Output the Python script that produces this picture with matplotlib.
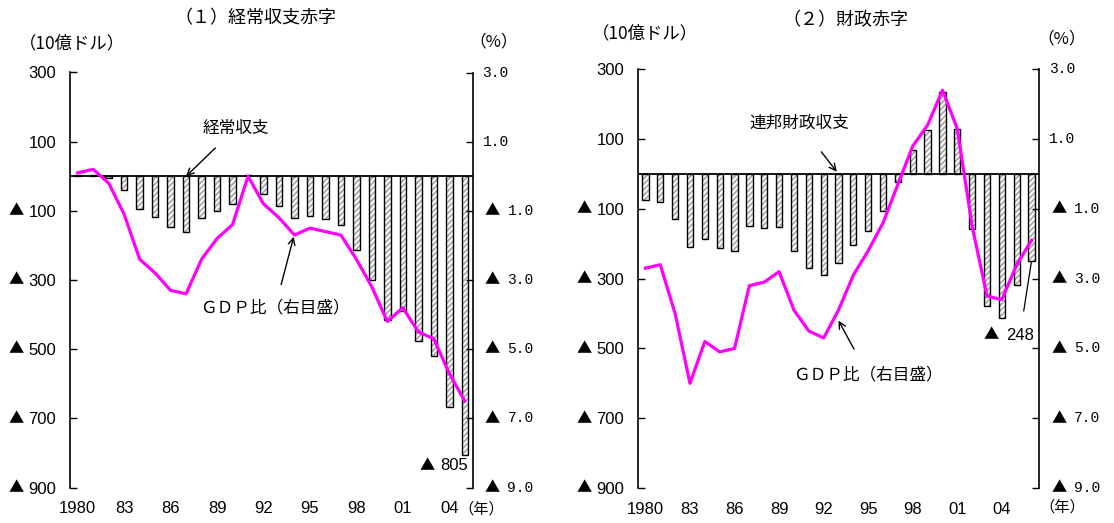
import numpy as np
import matplotlib
matplotlib.use('Agg')
import matplotlib.pyplot as plt
import matplotlib.transforms as mtrans
from matplotlib import font_manager

# 経常収支 (10億ドル) と GDP比 (%)
ca_years = list(range(1980, 2006))
ca_balance = [2.3, 5.0, -5.5, -38.7, -94.3, -118.2, -147.2, -160.7, -121.2, -99.5,
              -79.0, 2.9, -50.1, -84.8, -121.6, -113.6, -124.8, -140.9, -214.1, -300.1,
              -416.0, -389.5, -475.2, -519.7, -668.1, -804.9]
ca_gdp = [0.1, 0.2, -0.2, -1.1, -2.4, -2.8, -3.3, -3.4, -2.4, -1.8,
          -1.4, 0.0, -0.8, -1.2, -1.7, -1.5, -1.6, -1.7, -2.4, -3.2,
          -4.2, -3.8, -4.5, -4.7, -5.7, -6.5]

# 連邦財政収支 (10億ドル) と GDP比 (%)
fb_years = list(range(1980, 2007))
fb_balance = [-74, -79, -128, -208, -185, -212, -221, -150, -155, -153,
              -221, -269, -290, -255, -203, -164, -107, -22, 69, 126,
              236, 128, -158, -378, -413, -318, -248]
fb_gdp = [-2.7, -2.6, -4.0, -6.0, -4.8, -5.1, -5.0, -3.2, -3.1, -2.8,
          -3.9, -4.5, -4.7, -3.9, -2.9, -2.2, -1.4, -0.3, 0.8, 1.4,
          2.4, 1.3, -1.5, -3.5, -3.6, -2.6, -1.9]

left_ticks = [300, 100, -100, -300, -500, -700, -900]
right_ticks = [3.0, 1.0, -1.0, -3.0, -5.0, -7.0, -9.0]
year_labels = ['1980', '83', '86', '89', '92', '95', '98', '01', '04']

names = {f.name for f in font_manager.fontManager.ttflist}
NUM = 'Liberation Sans Narrow' if 'Liberation Sans Narrow' in names else 'Liberation Sans'
JP = 'Noto Sans CJK JP'
MONO = 'Liberation Mono'
TRI = '▲'

plt.rcParams['hatch.linewidth'] = 1.3

W, H = 1114, 523
fig = plt.figure(figsize=(W / 100, H / 100), dpi=100)


def fpos(x, y):
    return x / W, 1 - y / H


def draw_panel(left, right, top, bottom, years, bal, gdp):
    ax = fig.add_axes([left / W, 1 - bottom / H, (right - left) / W, (bottom - top) / H])
    idx = np.arange(len(years))
    # hatch first, then the black outline on top
    ax.bar(idx, bal, width=0.42, facecolor='white', edgecolor='#a8a8a8',
           hatch='//////', linewidth=0, zorder=2)
    ax.bar(idx, bal, width=0.42, fill=False, edgecolor='black', linewidth=1.0, zorder=3)
    ax.axhline(0, color='black', linewidth=1.3, zorder=4)
    ax.set_xlim(-0.5, len(years) - 0.5)
    ax.set_ylim(-900, 300)
    ax.set_yticks(left_ticks)
    ax.set_yticklabels(['{:.0f}'.format(abs(v)) for v in left_ticks],
                       family=NUM, fontsize=12)
    lab_idx = [years.index(1980 + 3 * k) for k in range(len(year_labels))]
    ax.set_xticks(lab_idx)
    ax.set_xticklabels(year_labels, family=NUM, fontsize=12)
    ax.tick_params(axis='x', length=0, pad=10)
    ax.tick_params(axis='y', direction='in', length=5, width=1, pad=10)
    for s in ['top', 'bottom', 'right']:
        ax.spines[s].set_visible(False)
    ax.spines['left'].set_linewidth(1.2)

    ax2 = ax.twinx()
    ax2.plot(idx, gdp, color='#ff00ff', linewidth=2.3, zorder=5)
    ax2.set_ylim(-9, 3)
    ax2.set_yticks(right_ticks)
    ax2.tick_params(axis='y', direction='in', length=5, width=1, labelright=False)
    for s in ['top', 'bottom', 'left']:
        ax2.spines[s].set_visible(False)
    ax2.spines['right'].set_linewidth(1.2)

    # right-hand % labels; negatives get a ▲ in front of the number
    trL = mtrans.blended_transform_factory(fig.transFigure, ax.transData)
    trR = mtrans.blended_transform_factory(fig.transFigure, ax2.transData)
    for v in right_ticks:
        x_num = right + (10 if v > 0 else 35)
        fig.text(x_num / W, v, '{:.1f}'.format(abs(v)), transform=trR, family=MONO,
                 fontsize=10.5, ha='left', va='center')
        if v < 0:
            fig.text((right + 20) / W, v, TRI, transform=trR, family=JP,
                     fontsize=11, ha='center', va='center')
    for v in left_ticks:
        if v < 0:
            fig.text((left - 54) / W, v, TRI, transform=trL, family=JP,
                     fontsize=11, ha='center', va='center')
    return ax, ax2


# (1) 経常収支赤字
axL, axL2 = draw_panel(70, 472.5, 72.5, 487.5, ca_years, ca_balance, ca_gdp)
fig.text(*fpos(255, 18), '（１）経常収支赤字', family=JP, fontsize=13,
         ha='center', va='center')
fig.text(*fpos(72, 43), '（10億ドル）', family=JP, fontsize=12.5, ha='center', va='center')
fig.text(*fpos(494, 42), '（%）', family=JP, fontsize=12, ha='center', va='center')
axL.annotate('経常収支', xy=(ca_years.index(1987), 0), xycoords='data',
             xytext=fpos(236, 128), textcoords='figure fraction',
             family=JP, fontsize=12, ha='center', va='center',
             arrowprops=dict(arrowstyle='->', color='black', lw=1,
                             shrinkA=9, shrinkB=0))
axL2.annotate('ＧＤＰ比（右目盛）', xy=(ca_years.index(1994) - 0.05, -1.75), xycoords='data',
              xytext=fpos(275, 308), textcoords='figure fraction',
              family=JP, fontsize=12, ha='center', va='center',
              arrowprops=dict(arrowstyle='->', color='black', lw=1,
                              shrinkA=9, shrinkB=0))
fig.text(*fpos(427, 466), TRI, family=JP, fontsize=11, ha='center', va='center')
fig.text(*fpos(468, 466), '{:.0f}'.format(abs(ca_balance[-1])), family=NUM, fontsize=12,
         ha='right', va='center')
fig.text(*fpos(481, 509), '（年）', family=JP, fontsize=11, ha='center', va='center')

# (2) 財政赤字
axR, axR2 = draw_panel(638, 1039, 69.3, 488, fb_years, fb_balance, fb_gdp)
fig.text(*fpos(845, 20), '（２）財政赤字', family=JP, fontsize=13,
         ha='center', va='center')
fig.text(*fpos(645, 33), '（10億ドル）', family=JP, fontsize=12.5, ha='center', va='center')
fig.text(*fpos(1062, 39), '（%）', family=JP, fontsize=12, ha='center', va='center')
axR.annotate('連邦財政収支', xy=(fb_years.index(1993), 0), xycoords='data',
             xytext=fpos(799, 123), textcoords='figure fraction',
             family=JP, fontsize=12, ha='center', va='center',
             arrowprops=dict(arrowstyle='->', color='black', lw=1,
                             shrinkA=16, shrinkB=2))
axR2.annotate('ＧＤＰ比（右目盛）', xy=(fb_years.index(1993), -4.2), xycoords='data',
              xytext=fpos(868, 375), textcoords='figure fraction',
              family=JP, fontsize=12, ha='center', va='center',
              arrowprops=dict(arrowstyle='->', color='black', lw=1,
                              shrinkA=12, shrinkB=0))
axR.annotate('{:.0f}'.format(abs(fb_balance[-1])), xy=(len(fb_years) - 1, fb_balance[-1]),
             xycoords='data', xytext=fpos(1020, 335), textcoords='figure fraction',
             family=NUM, fontsize=12, ha='center', va='center',
             arrowprops=dict(arrowstyle='-', color='black', lw=0.9,
                             shrinkA=10, shrinkB=1))
fig.text(*fpos(991, 335), TRI, family=JP, fontsize=11, ha='center', va='center')
fig.text(*fpos(1062, 507), '（年）', family=JP, fontsize=11, ha='center', va='center')

fig.savefig('out.png', dpi=100)
